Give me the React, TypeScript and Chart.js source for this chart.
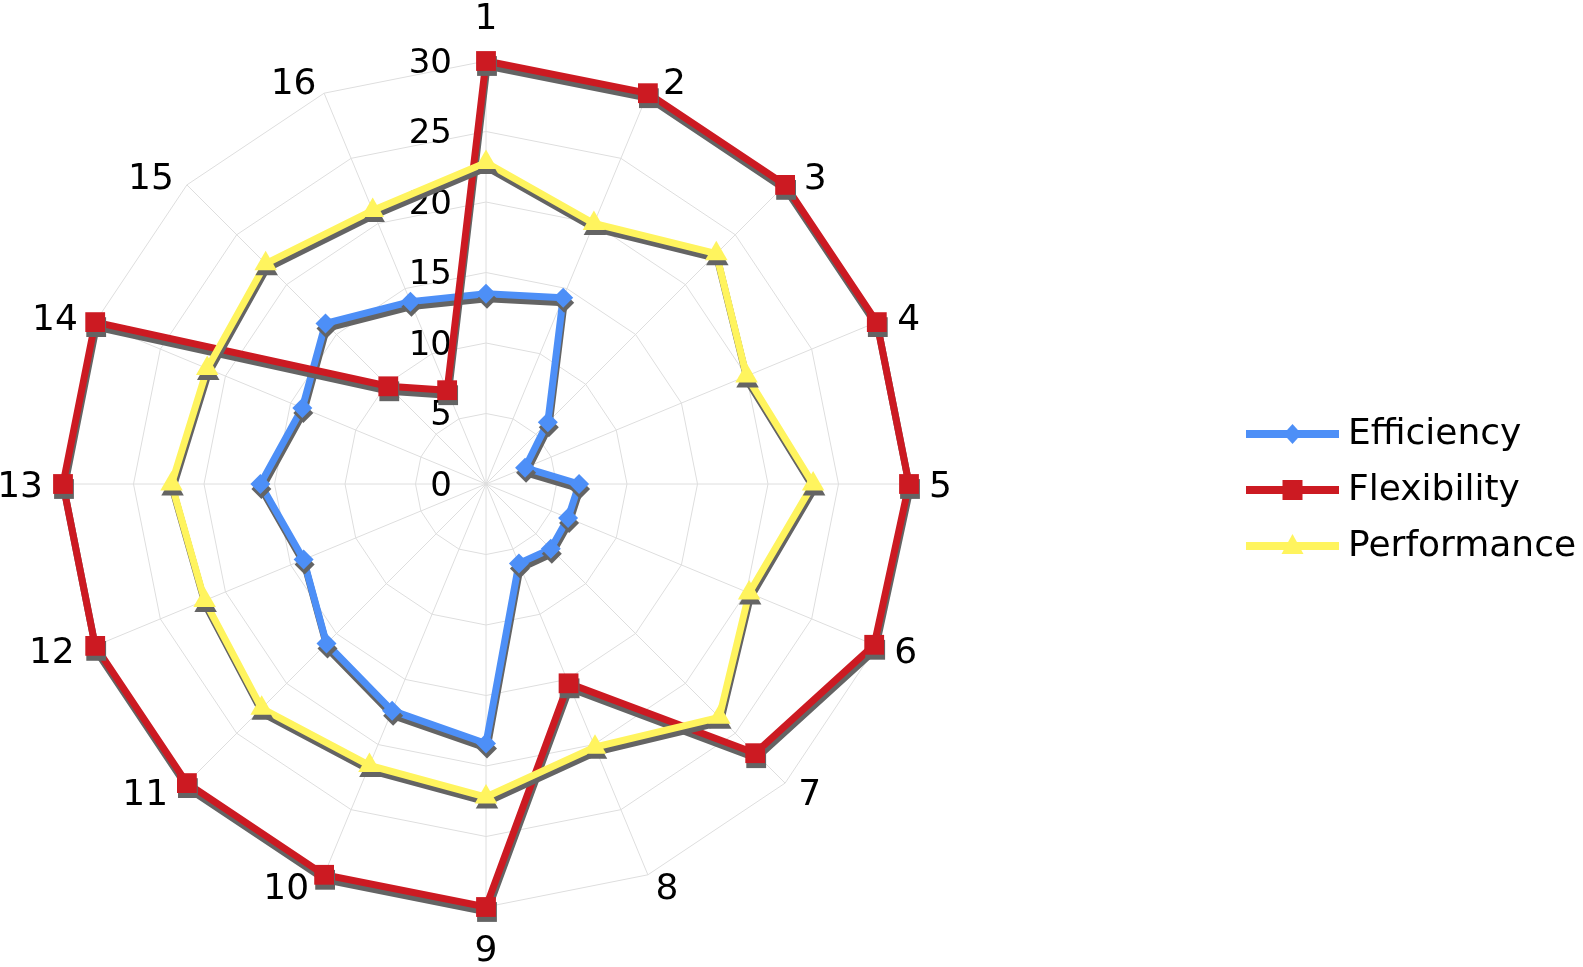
import React, { useEffect, useRef } from "react";
import { Chart, registerables } from "chart.js";

Chart.register(...registerables);

const categories = ["1", "2", "3", "4", "5", "6", "7", "8", "9", "10", "11", "12", "13", "14", "15", "16"];
const efficiency = [13.5, 14.3, 6.2, 3.0, 6.6, 6.3, 6.5, 6.1, 18.4, 17.4, 16.0, 14.0, 16.0, 14.1, 16.1, 14.0];
const flexibility = [30, 30, 30, 30, 30, 29.8, 27, 15.3, 30, 30, 30, 30, 30, 30, 9.8, 7.2];
const performance = [22.8, 20.0, 23.1, 20.0, 23.2, 20.2, 23.4, 20.2, 22.2, 21.6, 22.5, 21.6, 22.3, 21.4, 22.1, 21.0];
const tickValues = [0, 5, 10, 15, 20, 25, 30];
const seriesNames = ["Efficiency", "Flexibility", "Performance"];
const seriesColors = ["#4d8ff7", "#cc1a22", "#fff45e"];
const seriesMarkers = ["rectRot", "rect", "triangle"];

const FONT = "'DejaVu Sans', Verdana, sans-serif";

function drawMarker(ctx: CanvasRenderingContext2D, style: string, x: number, y: number, color: string) {
  ctx.fillStyle = color;
  ctx.beginPath();
  if (style === "rectRot") {
    ctx.moveTo(x, y - 10);
    ctx.lineTo(x + 9, y);
    ctx.lineTo(x, y + 10);
    ctx.lineTo(x - 9, y);
  } else if (style === "rect") {
    ctx.rect(x - 10, y - 10, 20, 20);
  } else {
    ctx.moveTo(x, y - 12);
    ctx.lineTo(x + 11, y + 8);
    ctx.lineTo(x - 11, y + 8);
  }
  ctx.closePath();
  ctx.fill();
}

const customPlugin = {
  id: "customDecor",
  beforeDatasetsDraw(chart: any) {
    const ctx: CanvasRenderingContext2D = chart.ctx;
    const scale = chart.scales.r;
    ctx.save();
    // radial tick labels, left of the vertical axis
    ctx.font = `34px ${FONT}`;
    ctx.fillStyle = "#000";
    ctx.textAlign = "right";
    ctx.textBaseline = "middle";
    tickValues.forEach((v) => {
      const d = scale.getDistanceFromCenterForValue(v);
      ctx.fillText(String(v), scale.xCenter - 34, scale.yCenter - d + 3);
    });
    // category labels
    ctx.font = `36px ${FONT}`;
    const n = categories.length;
    categories.forEach((label, i) => {
      const p = scale.getPointPosition(i, scale.drawingArea);
      const ang = (i * 2 * Math.PI) / n;
      const s = Math.sin(ang);
      const c = Math.cos(ang);
      if (Math.abs(s) < 1e-6) {
        ctx.textAlign = "center";
        ctx.fillText(label, p.x, c > 0 ? p.y - 41 : p.y + 44.5);
      } else {
        const gx = 6 + 14 * Math.abs(s);
        ctx.textAlign = s > 0 ? "left" : "right";
        ctx.fillText(label, p.x + (s > 0 ? gx : -gx) + 4 * c, p.y + 3.2 - 12.6 * c);
      }
    });
    ctx.restore();
    ctx.save();
    ctx.shadowColor = "rgba(100,100,100,1)";
    ctx.shadowOffsetX = 1;
    ctx.shadowOffsetY = 5;
    ctx.shadowBlur = 0;
  },
  afterDatasetsDraw(chart: any) {
    chart.ctx.restore();
  },
  afterDraw(chart: any) {
    const ctx: CanvasRenderingContext2D = chart.ctx;
    ctx.save();
    const x1 = 1246;
    const x2 = 1339;
    const tx = 1348;
    seriesNames.forEach((name, i) => {
      const y = 434 + i * 56;
      ctx.strokeStyle = seriesColors[i];
      ctx.lineWidth = 8;
      ctx.beginPath();
      ctx.moveTo(x1, y);
      ctx.lineTo(x2, y);
      ctx.stroke();
      drawMarker(ctx, seriesMarkers[i], (x1 + x2) / 2, y, seriesColors[i]);
      ctx.fillStyle = "#000";
      ctx.font = `36px ${FONT}`;
      ctx.textAlign = "left";
      ctx.textBaseline = "middle";
      ctx.fillText(name, tx, y + 1);
    });
    ctx.restore();
  },
};

export default function App() {
  const canvasRef = useRef<HTMLCanvasElement | null>(null);

  useEffect(() => {
    if (!canvasRef.current) return;
    const values = [efficiency, flexibility, performance];
    const radii = [10, 14, 13];
    const chart = new Chart(canvasRef.current, {
      type: "radar",
      data: {
        labels: categories,
        datasets: seriesNames.map((name, i) => ({
          label: name,
          data: values[i],
          borderColor: seriesColors[i],
          backgroundColor: seriesColors[i],
          pointBackgroundColor: seriesColors[i],
          pointBorderColor: seriesColors[i],
          pointBorderWidth: 0,
          borderWidth: 7,
          pointStyle: seriesMarkers[i] as any,
          pointRadius: radii[i],
          pointHoverRadius: radii[i],
          fill: false,
          tension: 0,
          order: 3 - i,
        })),
      },
      options: {
        animation: false,
        responsive: true,
        maintainAspectRatio: false,
        layout: { padding: { left: 63, right: 674, top: 61, bottom: 60 } },
        plugins: {
          legend: { display: false },
          tooltip: { enabled: false },
        },
        scales: {
          r: {
            min: 0,
            max: 30,
            ticks: { stepSize: 5, display: false },
            grid: { color: "#dedede", lineWidth: 1 },
            angleLines: { color: "#dedede", lineWidth: 1 },
            pointLabels: { display: false },
          },
        },
      },
      plugins: [customPlugin],
    });
    return () => chart.destroy();
  }, []);

  return (
    <div style={{ position: "absolute", left: 0, top: 0, width: 1583, height: 967 }}>
      <canvas ref={canvasRef} />
    </div>
  );
}
